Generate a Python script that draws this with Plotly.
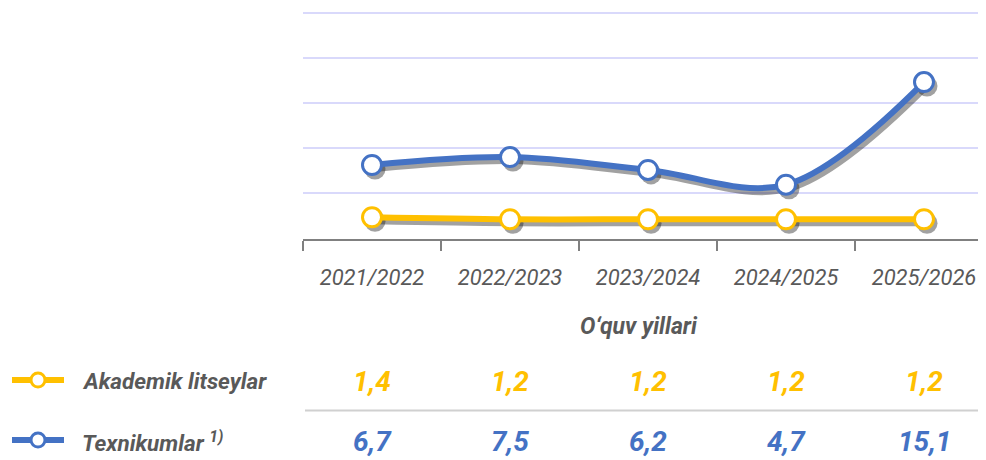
import plotly.graph_objects as go

# ---- data ----
years = ["2021/2022", "2022/2023", "2023/2024", "2024/2025", "2025/2026"]
akademik = [1.4, 1.2, 1.2, 1.2, 1.2]
texnikum = [6.7, 7.5, 6.2, 4.7, 15.1]
akademik_labels = ["1,4", "1,2", "1,2", "1,2", "1,2"]
texnikum_labels = ["6,7", "7,5", "6,2", "4,7", "15,1"]
series_names = ["Akademik litseylar", "Texnikumlar <sup>1)</sup>"]
x_title = "O‘quv yillari"

# ---- style ----
OFF = 8                      # page body margin
W, H = 986 - OFF, 460 - OFF
YELLOW = "#FFC000"
BLUE = "#4472C4"
GRAY = "#595959"
GRID = "#D9D9FB"
AXIS = "#808080"
FONT = "Roboto"

def fx(p):
    return (p - OFF) / W

def fy(p):
    return (H - (p - OFF)) / H

# pixel mapping of value axis (window px): pixel = Y0 - K * v
Y0, K = 231.1, 9.87
TOP, BOT = 10, 239
yr = [(Y0 - BOT) / K, (Y0 - TOP) / K]
PXCAT = 138
xr = [-0.5, -0.5 + (986 - 303) / PXCAT]
SH_X, SH_Y = 3, 4  # shadow offset in px
SHADOW = "rgba(30,30,30,0.42)"

fig = go.Figure()

# grid subplot (x, y) - invisible placeholder trace
fig.add_trace(go.Scatter(x=years, y=akademik, mode="markers", marker=dict(opacity=0),
                         hoverinfo="skip", showlegend=False, xaxis="x", yaxis="y"))

series = [(akademik, YELLOW), (texnikum, BLUE)]
# shadows
for vals, col in series:
    fig.add_trace(go.Scatter(
        x=years, y=vals, mode="lines+markers", xaxis="x2", yaxis="y2",
        line=dict(color=SHADOW, width=6, shape="spline"),
        marker=dict(size=21, color=SHADOW),
        hoverinfo="skip", showlegend=False, cliponaxis=False))
# main lines
for (vals, col), name in zip(series, series_names):
    fig.add_trace(go.Scatter(
        x=years, y=vals, mode="lines+markers", xaxis="x3", yaxis="y3", name=name,
        line=dict(color=col, width=6, shape="spline"),
        marker=dict(size=19, color="white", line=dict(color=col, width=3)),
        showlegend=False, cliponaxis=False))

hidden = dict(visible=False, showgrid=False, zeroline=False, automargin=False)

fig.update_layout(
    width=W, height=H,
    margin=dict(l=0, r=0, t=0, b=0, pad=0),
    paper_bgcolor="white", plot_bgcolor="rgba(0,0,0,0)",
    showlegend=False,
    font=dict(family=FONT, color=GRAY),
    xaxis=dict(domain=[fx(303), 1], range=xr, type="category", anchor="y",
               showline=True, linecolor=AXIS, linewidth=2, automargin=False,
               ticks="outside", tickson="boundaries", ticklen=10, tickwidth=1.5,
               tickcolor=AXIS, showgrid=False, zeroline=False, ticklabelstandoff=18,
               tickangle=0,
               tickfont=dict(family=FONT, size=22, color=GRAY, style="italic")),
    yaxis=dict(domain=[fy(BOT), fy(TOP)], range=yr, anchor="x", automargin=False,
               tick0=(Y0 - 193) / K, dtick=45.1 / K, showgrid=True, gridcolor=GRID,
               gridwidth=2, showticklabels=False, zeroline=False, showline=False, ticks=""),
    xaxis2=dict(domain=[fx(303 + SH_X), 1], range=[xr[0], xr[1] - SH_X / PXCAT],
                type="category", anchor="y2", **hidden),
    yaxis2=dict(domain=[fy(BOT + SH_Y), fy(TOP + SH_Y)], range=yr, anchor="x2", **hidden),
    xaxis3=dict(domain=[fx(303), 1], range=xr, type="category", anchor="y3", **hidden),
    yaxis3=dict(domain=[fy(BOT), fy(TOP)], range=yr, anchor="x3", **hidden),
)

ann = []
# axis title
ann.append(dict(text=x_title, x=fx(639), y=fy(327), xref="paper", yref="paper",
                xanchor="center", yanchor="middle", showarrow=False,
                font=dict(family=FONT, size=23, color=GRAY, weight="bold", style="italic")))
# table rows
rows = [(akademik_labels, YELLOW, 381, series_names[0]),
        (texnikum_labels, BLUE, 441, series_names[1])]
shapes = []
for labels, col, ypx, name in rows:
    for yv, lab in zip(years, labels):
        ann.append(dict(text=lab, x=yv, y=fy(ypx), xref="x3", yref="paper",
                        xanchor="center", yanchor="middle", showarrow=False,
                        font=dict(family=FONT, size=28, color=col, weight="bold", style="italic")))
    ann.append(dict(text=name, x=fx(80), y=fy(ypx), xref="paper", yref="paper",
                    xanchor="left", yanchor="middle", showarrow=False,
                    font=dict(family=FONT, size=22.5, color=GRAY, weight="bold", style="italic")))
    # legend symbol
    shapes.append(dict(type="line", xref="paper", yref="paper",
                       x0=fx(12), x1=fx(64), y0=fy(ypx - 1), y1=fy(ypx - 1),
                       line=dict(color=col, width=6)))
    shapes.append(dict(type="circle", xref="paper", yref="paper",
                       x0=fx(31), x1=fx(45), y0=fy(ypx - 8), y1=fy(ypx + 6),
                       fillcolor="white", line=dict(color=col, width=3)))
# separator line
shapes.append(dict(type="line", xref="paper", yref="paper", x0=fx(305), x1=1,
                   y0=fy(410.5), y1=fy(410.5), line=dict(color="#D0D0D0", width=2)))

fig.update_layout(annotations=ann, shapes=shapes)
fig.write_html("out.html")
